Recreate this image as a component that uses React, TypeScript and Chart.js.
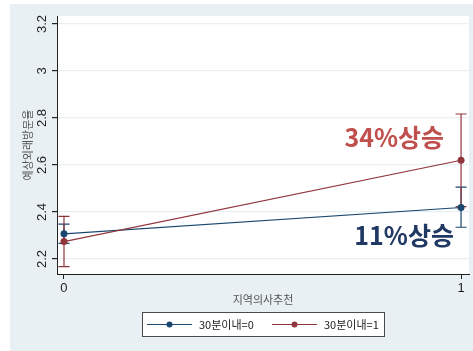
import React, { useEffect, useRef } from "react";
import { Chart, registerables } from "chart.js";

Chart.register(...registerables);

// 지역의사추천 (0/1) by 30분이내 group: predicted outpatient visit rate with CIs
const xValues = [0, 1];
const seriesLabels = ["30분이내=0", "30분이내=1"];
const group0Mean = [2.307, 2.419];
const group0Low = [2.266, 2.335];
const group0High = [2.348, 2.506];
const group1Mean = [2.274, 2.62];
const group1Low = [2.167, 2.423];
const group1High = [2.381, 2.817];
const yTicks = [2.2, 2.4, 2.6, 2.8, 3, 3.2];
const xTicks = [0, 1];
const notes = [
  { text: "34%상승", x: 0.957, y: 2.717, color: "#c0504d" },
  { text: "11%상승", x: 0.982, y: 2.298, color: "#1f3864" },
];

const NAVY = "#1a476f";
const MAROON = "#90353b";
const BG = "#e9f0f3";
const FONT = '"Liberation Sans", "Noto Sans CJK KR", sans-serif';
const KFONT = '"Noto Sans CJK KR", "Liberation Sans", sans-serif';

const panelPlugin = {
  id: "panel",
  beforeDraw(chart: any) {
    const { ctx, chartArea } = chart;
    ctx.save();
    ctx.fillStyle = BG;
    ctx.fillRect(10, 4, chart.width - 10, chart.height - 4);
    ctx.fillStyle = "#ffffff";
    ctx.fillRect(chartArea.left, chartArea.top, chartArea.right - chartArea.left, chartArea.bottom - chartArea.top);
    ctx.restore();
  },
};

const errorBarPlugin = {
  id: "errorBars",
  beforeDatasetsDraw(chart: any) {
    const { ctx, scales } = chart;
    const groups = [
      { lo: group0Low, hi: group0High, color: NAVY },
      { lo: group1Low, hi: group1High, color: MAROON },
    ];
    ctx.save();
    ctx.lineWidth = 1.2;
    groups.forEach((g) => {
      ctx.strokeStyle = g.color;
      xValues.forEach((xv, i) => {
        const px = scales.x.getPixelForValue(xv);
        const y1 = scales.y.getPixelForValue(g.lo[i]);
        const y2 = scales.y.getPixelForValue(g.hi[i]);
        ctx.beginPath();
        ctx.moveTo(px, y1);
        ctx.lineTo(px, y2);
        ctx.moveTo(px - 5.5, y1);
        ctx.lineTo(px + 5.5, y1);
        ctx.moveTo(px - 5.5, y2);
        ctx.lineTo(px + 5.5, y2);
        ctx.stroke();
      });
    });
    ctx.restore();
  },
};

const overlayPlugin = {
  id: "overlay",
  afterDraw(chart: any) {
    const { ctx, scales, chartArea } = chart;
    ctx.save();
    // value notes
    ctx.font = `bold 25px ${KFONT}`;
    ctx.textAlign = "right";
    ctx.textBaseline = "middle";
    notes.forEach((n) => {
      ctx.fillStyle = n.color;
      ctx.fillText(n.text, scales.x.getPixelForValue(n.x), scales.y.getPixelForValue(n.y));
    });
    // axis titles
    ctx.fillStyle = "#555555";
    ctx.font = `11px ${KFONT}`;
    ctx.textAlign = "center";
    ctx.fillText("지역의사추천", (chartArea.left + chartArea.right) / 2, 300);
    ctx.save();
    ctx.translate(28, (chartArea.top + chartArea.bottom) / 2);
    ctx.rotate(-Math.PI / 2);
    ctx.fillText("예상외래방문율", 0, 0);
    ctx.restore();
    // legend
    const bx = 142, by = 312, bw = 242, bh = 24;
    ctx.fillStyle = "#ffffff";
    ctx.fillRect(bx, by, bw, bh);
    ctx.strokeStyle = "#4a4a4a";
    ctx.lineWidth = 1;
    ctx.strokeRect(bx + 0.5, by + 0.5, bw, bh);
    const items = [
      { x: 147, color: NAVY, label: seriesLabels[0] },
      { x: 272, color: MAROON, label: seriesLabels[1] },
    ];
    const cy = by + bh / 2 + 0.5;
    items.forEach((it) => {
      ctx.strokeStyle = it.color;
      ctx.lineWidth = 1;
      ctx.beginPath();
      ctx.moveTo(it.x, cy);
      ctx.lineTo(it.x + 45, cy);
      ctx.stroke();
      ctx.fillStyle = it.color;
      ctx.beginPath();
      ctx.arc(it.x + 22.5, cy, 3, 0, Math.PI * 2);
      ctx.fill();
      ctx.fillStyle = "#222222";
      ctx.font = `11px ${KFONT}`;
      ctx.textAlign = "left";
      ctx.textBaseline = "middle";
      ctx.fillText(it.label, it.x + 52, cy);
    });
    ctx.restore();
  },
};

export default function App() {
  const ref = useRef<HTMLCanvasElement | null>(null);
  useEffect(() => {
    if (!ref.current) return;
    const toPoints = (vals: number[]) => xValues.map((x, i) => ({ x, y: vals[i] }));
    const chart = new Chart(ref.current, {
      type: "line",
      data: {
        datasets: [
          {
            label: seriesLabels[0],
            data: toPoints(group0Mean),
            borderColor: NAVY,
            backgroundColor: NAVY,
            borderWidth: 1.2,
            pointRadius: 3.5,
            pointBorderWidth: 0,
            order: 2,
          },
          {
            label: seriesLabels[1],
            data: toPoints(group1Mean),
            borderColor: MAROON,
            backgroundColor: MAROON,
            borderWidth: 1.2,
            pointRadius: 3.5,
            pointBorderWidth: 0,
            order: 1,
          },
        ],
      },
      options: {
        animation: false,
        responsive: false,
        devicePixelRatio: 1,
        layout: { padding: { left: 10, right: 3, top: 16, bottom: 0 } },
        plugins: { legend: { display: false }, tooltip: { enabled: false } },
        scales: {
          x: {
            type: "linear",
            min: -0.0176,
            max: 1.02,
            afterBuildTicks: (s: any) => {
              s.ticks = xTicks.map((v) => ({ value: v }));
            },
            afterFit: (s: any) => {
              s.height = 77;
            },
            grid: { color: "rgba(0,0,0,0)", tickColor: "#222222", tickLength: 5, drawOnChartArea: false },
            border: { color: "#222222", width: 1 },
            ticks: { color: "#222222", font: { family: FONT, size: 13 }, padding: 2, maxRotation: 0 },
          },
          y: {
            type: "linear",
            min: 2.136,
            max: 3.234,
            afterBuildTicks: (s: any) => {
              s.ticks = yTicks.map((v) => ({ value: v }));
            },
            afterFit: (s: any) => {
              s.width = 47;
            },
            grid: { color: "#e9f0f3", tickColor: "#222222", tickLength: 5, lineWidth: 1.2 },
            border: { color: "#222222", width: 1 },
            ticks: {
              color: "#222222",
              font: { family: FONT, size: 13 },
              padding: 1,
              minRotation: 90,
              maxRotation: 90,
              crossAlign: "center",
              callback: (v: any) => String(Math.round(Number(v) * 10) / 10),
            },
          },
        },
      },
      plugins: [panelPlugin, errorBarPlugin, overlayPlugin],
    });
    return () => chart.destroy();
  }, []);
  return (
    <div style={{ position: "fixed", left: 0, top: 0, width: 473, height: 351 }}>
      <canvas ref={ref} width={473} height={351} />
    </div>
  );
}
